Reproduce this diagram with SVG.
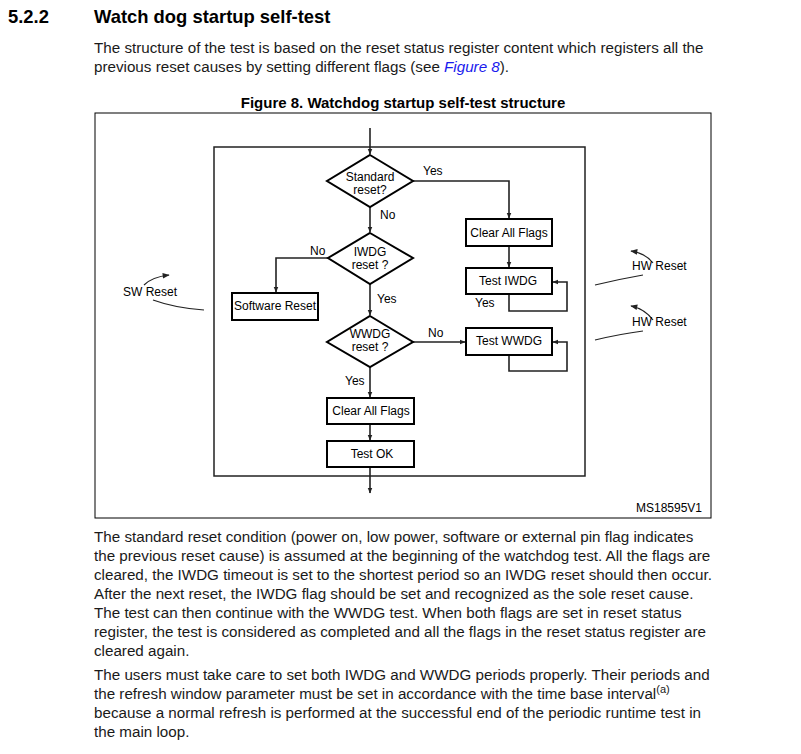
<svg xmlns="http://www.w3.org/2000/svg" width="801" height="754" viewBox="0 0 801 754">
<defs>
<style>
.body{font-family:"Liberation Sans",Arial,sans-serif;font-size:15.2px;fill:#1a1a1a}
.h{font-family:"Liberation Sans",Arial,sans-serif;font-weight:bold;font-size:18.4px;fill:#000}
.cap{font-family:"Liberation Sans",Arial,sans-serif;font-weight:bold;font-size:15px;fill:#000}
.t{font-family:"Liberation Sans",Arial,sans-serif;font-size:12px;fill:#000}
.c{text-anchor:middle}
.box{fill:#fff;stroke:#000;stroke-width:2}
.ln{fill:none;stroke:#222;stroke-width:1.6}
.thin{fill:none;stroke:#222;stroke-width:1.2}
</style>
<marker id="ah" viewBox="0 0 10 10" refX="9" refY="5" markerWidth="6" markerHeight="6" markerUnits="userSpaceOnUse" orient="auto">
<path d="M0,1 L10,5 L0,9 z" fill="#222"/>
</marker>
<marker id="ah2" viewBox="0 0 10 10" refX="9" refY="5" markerWidth="9" markerHeight="7" markerUnits="userSpaceOnUse" orient="auto">
<path d="M0,1 L10,5 L0,9 z" fill="#222"/>
</marker>
</defs>
<rect width="801" height="754" fill="#fff"/>

<text class="h" x="8" y="23">5.2.2</text>
<text class="h" x="94" y="23">Watch dog startup self-test</text>
<text class="body" x="94" y="53">The structure of the test is based on the reset status register content which registers all the</text>
<text class="body" x="94" y="72">previous reset causes by setting different flags (see <tspan fill="#1a1aee" font-style="italic">Figure 8</tspan>).</text>
<text class="cap c" x="403" y="108">Figure 8. Watchdog startup self-test structure</text>

<rect x="95" y="113" width="616" height="405" fill="none" stroke="#000" stroke-width="1"/>
<rect id="frame" x="214" y="147" width="371" height="329" fill="none" stroke="#222" stroke-width="1.5"/>
<text class="t" x="702" y="512" text-anchor="end" font-size="7.3">MS18595V1</text>

<g id="connectors">
<path class="ln" d="M370,128 V154" marker-end="url(#ah)"/>
<path class="ln" d="M413,181 H509 V218" marker-end="url(#ah)"/>
<path class="ln" d="M509,246 V267" marker-end="url(#ah)"/>
<path class="ln" d="M509,294 V311 H567 V282 H553" marker-end="url(#ah)"/>
<path class="ln" d="M370,207 V232" marker-end="url(#ah)"/>
<path class="ln" d="M328,258 H276 V292" marker-end="url(#ah)"/>
<path class="ln" d="M370,284 V315" marker-end="url(#ah)"/>
<path class="ln" d="M413,342 H465" marker-end="url(#ah)"/>
<path class="ln" d="M509,355 V371 H567 V342 H553" marker-end="url(#ah)"/>
<path class="ln" d="M370,367 V397" marker-end="url(#ah)"/>
<path class="ln" d="M370,424 V440" marker-end="url(#ah)"/>
<path class="ln" d="M370,467 V493" marker-end="url(#ah)"/>
<text class="t" x="423" y="175">Yes</text>
<text class="t" x="380" y="219">No</text>
<text class="t" x="310" y="255">No</text>
<text class="t" x="377" y="303">Yes</text>
<text class="t" x="475" y="307">Yes</text>
<text class="t" x="428" y="337">No</text>
<text class="t" x="345" y="385">Yes</text>
</g>

<g id="standard-reset">
<path class="box" d="M370,155 L413,181 L370,207 L327,181 Z"/>
<text class="t c" x="370" y="181">Standard</text>
<text class="t c" x="370" y="194">reset?</text>
</g>
<g id="iwdg-reset">
<path class="box" d="M370,233 L413,258 L370,284 L328,258 Z"/>
<text class="t c" x="370" y="256">IWDG</text>
<text class="t c" x="370" y="269">reset ?</text>
</g>
<g id="wwdg-reset">
<path class="box" d="M370,316 L413,342 L370,367 L327,342 Z"/>
<text class="t c" x="370" y="338">WWDG</text>
<text class="t c" x="370" y="351">reset ?</text>
</g>
<g id="clear-flags-1">
<rect class="box" x="466" y="219" width="86" height="27"/>
<text class="t c" x="509" y="237">Clear All Flags</text>
</g>
<g id="test-iwdg">
<rect class="box" x="466" y="268" width="86" height="26"/>
<text class="t c" x="508" y="285">Test IWDG</text>
</g>
<g id="test-wwdg">
<rect class="box" x="466" y="328" width="86" height="27"/>
<text class="t c" x="509" y="345">Test WWDG</text>
</g>
<g id="software-reset">
<rect class="box" x="232" y="293" width="86" height="27"/>
<text class="t c" x="275" y="310">Software Reset</text>
</g>
<g id="clear-flags-2">
<rect class="box" x="327" y="398" width="87" height="26"/>
<text class="t c" x="371" y="415">Clear All Flags</text>
</g>
<g id="test-ok">
<rect class="box" x="327" y="441" width="87" height="26"/>
<text class="t c" x="372" y="458">Test OK</text>
</g>

<g id="sw-reset">
<path class="thin" d="M144,285 Q152,277 169,275" marker-end="url(#ah2)"/>
<text class="t" x="123" y="296">SW Reset</text>
<path class="thin" d="M153,300 Q175,308 204,310"/>
</g>
<g id="hw-reset-1">
<path class="thin" d="M653,263 Q645,253 631,251" marker-end="url(#ah2)"/>
<text class="t" x="632" y="270">HW Reset</text>
<path class="thin" d="M643,275 Q620,279 595,285"/>
</g>
<g id="hw-reset-2">
<path class="thin" d="M653,320 Q645,309 631,306" marker-end="url(#ah2)"/>
<text class="t" x="632" y="326">HW Reset</text>
<path class="thin" d="M643,331 Q620,334 595,340"/>
</g>

<text class="body" x="94" y="542">The standard reset condition (power on, low power, software or external pin flag indicates</text>
<text class="body" x="94" y="561">the previous reset cause) is assumed at the beginning of the watchdog test. All the flags are</text>
<text class="body" x="94" y="580">cleared, the IWDG timeout is set to the shortest period so an IWDG reset should then occur.</text>
<text class="body" x="94" y="599">After the next reset, the IWDG flag should be set and recognized as the sole reset cause.</text>
<text class="body" x="94" y="618">The test can then continue with the WWDG test. When both flags are set in reset status</text>
<text class="body" x="94" y="637">register, the test is considered as completed and all the flags in the reset status register are</text>
<text class="body" x="94" y="656">cleared again.</text>
<text class="body" x="94" y="680">The users must take care to set both IWDG and WWDG periods properly. Their periods and</text>
<text class="body" x="94" y="699">the refresh window parameter must be set in accordance with the time base interval<tspan font-size="11" dy="-6">(a)</tspan></text>
<text class="body" x="94" y="718">because a normal refresh is performed at the successful end of the periodic runtime test in</text>
<text class="body" x="94" y="737">the main loop.</text>
</svg>
